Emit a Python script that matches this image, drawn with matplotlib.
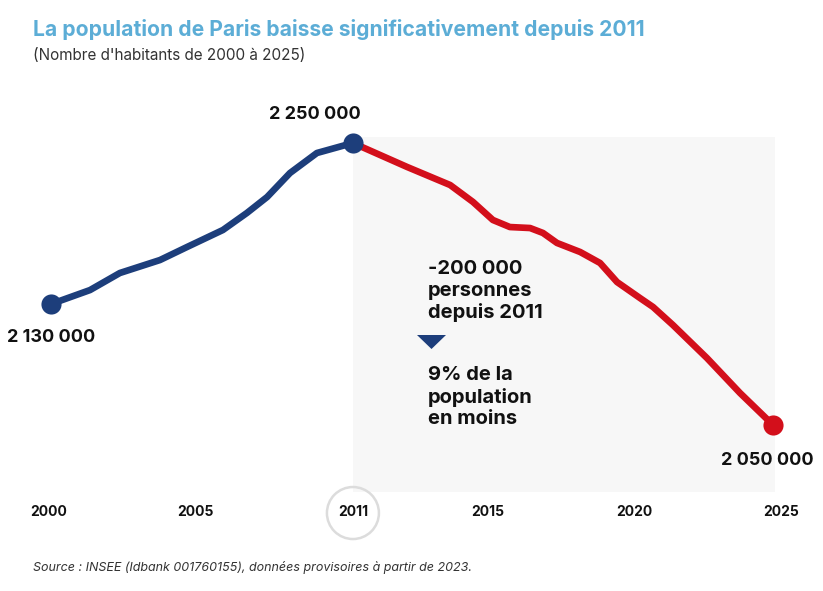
import matplotlib.pyplot as plt
from matplotlib.patches import Rectangle, Ellipse, Polygon

# population (milliers), abscisse en années
years_up = [2000.07, 2001.40, 2002.42, 2003.79, 2004.71, 2005.94, 2006.76, 2007.45,
            2008.23, 2009.15, 2010.38]
pop_up = [2135.8, 2145.7, 2157.8, 2167.0, 2176.2, 2188.3, 2200.4, 2211.7,
          2228.7, 2242.9, 2250.0]
years_down = [2010.38, 2012.23, 2013.70, 2014.48, 2015.16, 2015.74, 2016.43, 2016.87,
              2017.35, 2018.14, 2018.82, 2019.40, 2020.18, 2020.63, 2021.31, 2022.47,
              2023.60, 2024.73]
pop_down = [2250.0, 2233.0, 2220.2, 2208.2, 2195.4, 2190.4, 2189.7, 2186.2,
            2179.1, 2172.7, 2164.9, 2151.4, 2140.1, 2133.7, 2120.9, 2097.5,
            2072.7, 2050.0]
tick_pos = [2000, 2005, 2010.38, 2015, 2020, 2025]
tick_labels = ['2000', '2005', '2011', '2015', '2020', '2025']
point_labels = ['2 130 000', '2 250 000', '2 050 000']

BLUE = '#1d3e7b'
RED = '#d30f1b'
FONT = ['Inter', 'DejaVu Sans']

fig = plt.figure(figsize=(8.23, 5.91), dpi=100)
ax = fig.add_axes([0, 0, 1, 1])
ax.set_xlim(1998.327, 2026.434)
ax.set_ylim(1932.3, 2351.4)
ax.axis('off')

# zone grisée après 2011
ax.add_patch(Rectangle((years_down[0], 2002.5), 2024.8 - years_down[0], 254.0 - 2.5,
                       facecolor='#f7f7f7', edgecolor='none', zorder=0))

ax.plot(years_up, pop_up, color=BLUE, lw=4.8, solid_capstyle='round', solid_joinstyle='round', zorder=3)
ax.plot(years_down, pop_down, color=RED, lw=4.8, solid_capstyle='round', solid_joinstyle='round', zorder=3)
ax.scatter([years_up[0], years_up[-1]], [pop_up[0], pop_up[-1]], s=210, color=BLUE, zorder=4, lw=0)
ax.scatter([years_down[-1]], [pop_down[-1]], s=210, color=RED, zorder=4, lw=0)

lab_kw = dict(fontsize=13, fontweight='bold', family=FONT, color='#111111', ha='center', va='center')
ax.text(years_up[0], pop_up[0] - 24, point_labels[0], **lab_kw)
ax.text(years_up[-1] - 1.3, pop_up[-1] + 20, point_labels[1], **lab_kw)
ax.text(years_down[-1] - 0.2, pop_down[-1] - 25.5, point_labels[2], **lab_kw)

# axe des années
for p, t in zip(tick_pos, tick_labels):
    ax.text(p, 2250 - (512 - 143) * 0.7092, t, fontsize=10, fontweight='bold', family=FONT,
            ha='center', va='center', color='#111111')
ax.add_patch(Ellipse((tick_pos[2], 2250 - (513 - 143) * 0.7092), 52 / 29.28, 52 * 0.7092,
                     facecolor='none', edgecolor='#dcdcdc', lw=1.8, zorder=2))

# annotation
ann_kw = dict(fontsize=14.5, fontweight='bold', family=FONT, color='#111111',
              ha='left', va='top', linespacing=1.25)
fig.text(428 / 823, 1 - 260 / 591, '-200 000\npersonnes\ndepuis 2011', **ann_kw)
fig.text(428 / 823, 1 - 366 / 591, '9% de la\npopulation\nen moins', **ann_kw)
tri = Polygon([(417 / 823, 1 - 335 / 591), (446 / 823, 1 - 335 / 591), (431.5 / 823, 1 - 349 / 591)],
              closed=True, transform=fig.transFigure, facecolor=BLUE, edgecolor='none')
fig.patches.append(tri)

fig.text(33 / 823, 1 - 30 / 591, 'La population de Paris baisse significativement depuis 2011',
         fontsize=15.2, fontweight='bold', family=FONT, color='#5cadd6', ha='left', va='center')
fig.text(33 / 823, 1 - 55 / 591, "(Nombre d'habitants de 2000 à 2025)",
         fontsize=11, family=FONT, color='#333333', ha='left', va='center')
fig.text(33 / 823, 1 - 568 / 591, 'Source : INSEE (Idbank 001760155), données provisoires à partir de 2023.',
         fontsize=9, style='italic', family=FONT, color='#333333', ha='left', va='center')

fig.savefig('out.png', dpi=100)
